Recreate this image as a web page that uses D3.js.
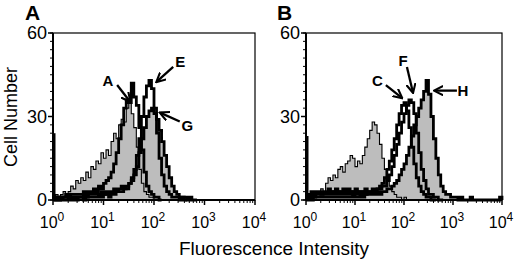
<!DOCTYPE html>
<html>
<head>
<meta charset="utf-8">
<script src="https://cdn.jsdelivr.net/npm/d3@7"></script>
<style>
  body { margin: 0; background: #fff; }
  text { font-family: "Liberation Sans", Arial, sans-serif; fill: #000; }
</style>
</head>
<body>
<div id="chart"></div>
<script>
// histogram bins: 0.05 decade wide, starting at 10^0
var binWidth = 0.05;
var xTicks = [1, 10, 100, 1000, 10000];
var yTicks = [0, 30, 60];

// panel A
var ctrlA = [1,2,1,2,3,2, 3,5,4,7,6,8, 7,10,8,12,11,14, 13,17,15,18,16,21,
             24,22,27,29,28,33, 35,31,26,19,11,6, 3,2,1,1,0,0];
var seriesA = [1,1,1,1,1,2,1,2,2,2,2, 2,3,2,3,3,4,3,5,4,6, 7,8,10,13,17,22,
               27,33,36,35,42,37, 34,26,18,10,5,3, 2,1,1,0];
var seriesE = [0,1,0,1,1,1,1,1,1,1,1,1,2,1,2,2,2,2,2,3,2, 3,3,3,4,3,4,5,4,5,6,
               8,11,16,22,30,37, 41,43,40,33,24,15, 9,5,3,2,1,1, 1,0,1,0];
var seriesG = [1,0,0,1,0,0,1,0,1,0,1,1,0,1,1,1,1,1,2,1,2,2,1,2,2,3,
               3,3,4,4,6,7, 9,12,17,22,26,30, 32,33,31,29,25,21,
               16,12,8,5,3,2, 1,1,1,0,1,0,0];
var firstChannelA = 24;   // pile-up in the lowest channel

// panel B
var ctrlB = [2,1,2,3,2,3, 4,3,6,8,7,9, 8,11,12,10,13,14, 16,15,12,14,13,16,
             19,22,25,28,27,24, 20,15,11,8,5,3, 2,1,1,0,1,0];
var seriesC = [1,2,3,2,3,3,2,3,3,4,3,3,4,3,3,4,3,4,3,3,4,3,3,3,4,3,
               3,4,3,4,5,6, 8,11,14,18,22,27, 31,34,35,32,26,19,
               13,8,5,3,2,1, 1,0,0];
var seriesF = [1,1,2,1,2,2,2,2,2,2,3,2,2,3,2,2,3,2,3,2,2,3,2,3,2,3,
               3,3,3,4,4,5, 5,7,9,12,16,20, 24,28,31,34,36,35,
               31,24,17,11,7,4, 2,2,1,1,0,0];
var seriesH = [0,1,0,1,1,1,1,1,1,1,1,1,1,1,1,1,1,1,1,2,1,1,2,1,2,2,
               2,2,2,3,2,3, 3,4,4,5,6,7, 9,11,13,16,19,23,
               27,30,33,36,39,43, 38,30,22,15,9,5, 3,2,2,1,1,1,
               0,1,0,0,0,1,0,0,0,0,0,0,0,0,0,0,0,1];
var firstChannelB = 23;

// annotations: [label, labelLog, labelCount, tailLog, tailCount, headLog, headCount]
var notesA = [
    ["A", 1.09, 43, 1.27, 41.3, 1.52, 35.5],
    ["E", 2.52, 49.6, 2.38, 47.8, 2.06, 42.6],
    ["G", 2.66, 26.6, 2.51, 28.2, 2.13, 31.3]
];
var notesB = [
    ["C", 1.46, 43, 1.63, 41.3, 1.95, 36.8],
    ["F", 1.98, 50, 2.06, 47.8, 2.18, 38.8],
    ["H", 3.2, 39.3, 3.08, 39.3, 2.63, 39.3]
];

var width = 520, height = 261;
var svg = d3.select("#chart").append("svg")
    .attr("width", width)
    .attr("height", height);

var defs = svg.append("defs");
defs.append("marker")
    .attr("id", "arrow")
    .attr("viewBox", "0 0 10 10")
    .attr("refX", 8).attr("refY", 5)
    .attr("markerWidth", 4.5).attr("markerHeight", 4.5)
    .attr("markerUnits", "strokeWidth")
    .attr("orient", "auto")
    .append("path")
    .attr("d", "M0,0.5 L9,5 L0,9.5")
    .attr("fill", "none")
    .attr("stroke", "#000")
    .attr("stroke-width", 2);

function toPoints(counts) {
    var pts = counts.map((c, i) => ({ lo: Math.pow(10, i * binWidth), c: c }));
    pts.push({ lo: Math.pow(10, counts.length * binWidth), c: 0 });
    return pts;
}

function drawPanel(cfg) {
    var x = d3.scaleLog().domain([1, 10000]).range([cfg.left, cfg.right]);
    var y = d3.scaleLinear().domain([0, 60]).range([200, 33]);
    var g = svg.append("g");

    var area = d3.area().curve(d3.curveStepAfter)
        .x(d => x(d.lo)).y0(y(0)).y1(d => y(d.c));
    var line = d3.line().curve(d3.curveStepAfter)
        .x(d => x(d.lo)).y(d => y(d.c));

    // filled histograms
    cfg.filled.forEach(s => {
        g.append("path").attr("d", area(toPoints(s)))
            .attr("fill", "#bdbdbd").attr("stroke", "none");
    });
    // thin control outline
    g.append("path").attr("d", line(toPoints(cfg.filled[0])))
        .attr("fill", "none").attr("stroke", "#000").attr("stroke-width", 1.1);
    // thick lines
    cfg.thick.forEach(s => {
        g.append("path").attr("d", line(toPoints(s)))
            .attr("fill", "none").attr("stroke", "#000")
            .attr("stroke-width", 2.8).attr("stroke-linejoin", "miter");
    });

    // frame
    g.append("rect")
        .attr("x", x(1)).attr("y", y(60))
        .attr("width", x(10000) - x(1)).attr("height", y(0) - y(60))
        .attr("fill", "none").attr("stroke", "#000").attr("stroke-width", 1.2);

    // lowest-channel pile-up along the y axis
    g.append("line")
        .attr("x1", x(1) + 1).attr("x2", x(1) + 1)
        .attr("y1", y(0)).attr("y2", y(cfg.firstChannel))
        .attr("stroke", "#000").attr("stroke-width", 3);

    // x axis: decades with minor ticks
    var minors = [];
    for (var d = 1; d < 10000; d *= 10) {
        for (var k = 2; k <= 9; k++) minors.push(d * k);
    }
    var xa = g.append("g").attr("transform", "translate(0," + y(0) + ")");
    xa.append("line").attr("x1", x(1)).attr("x2", x(10000))
        .attr("stroke", "#000").attr("stroke-width", 2);
    xa.selectAll(".mx").data(minors).enter().append("line")
        .attr("x1", d => x(d)).attr("x2", d => x(d))
        .attr("y1", 0).attr("y2", 3)
        .attr("stroke", "#000").attr("stroke-width", 1);
    xa.selectAll(".Mx").data(xTicks).enter().append("line")
        .attr("x1", d => x(d)).attr("x2", d => x(d))
        .attr("y1", 0).attr("y2", 5)
        .attr("stroke", "#000").attr("stroke-width", 1.5);
    var lbl = xa.selectAll(".lx").data(xTicks).enter().append("text")
        .attr("x", d => x(d) - 1).attr("y", 28)
        .attr("text-anchor", "middle")
        .attr("font-size", 16);
    lbl.append("tspan").text("10");
    lbl.append("tspan").attr("dy", -7).attr("font-size", 12)
        .text(d => Math.round(Math.log10(d)));

    // y axis
    var ya = g.append("g").attr("transform", "translate(" + x(1) + ",0)");
    ya.append("line").attr("y1", y(0)).attr("y2", y(60))
        .attr("stroke", "#000").attr("stroke-width", 2);
    ya.selectAll(".my").data(d3.range(0, 61, 3)).enter().append("line")
        .attr("x1", 0).attr("x2", -3)
        .attr("y1", d => y(d)).attr("y2", d => y(d))
        .attr("stroke", "#000").attr("stroke-width", 1);
    ya.selectAll(".My").data(yTicks).enter().append("line")
        .attr("x1", 0).attr("x2", -5)
        .attr("y1", d => y(d)).attr("y2", d => y(d))
        .attr("stroke", "#000").attr("stroke-width", 1.5);
    ya.selectAll(".ly").data(yTicks).enter().append("text")
        .attr("x", -6).attr("y", d => y(d) + 6)
        .attr("text-anchor", "end")
        .attr("font-size", 18)
        .text(d => d);

    // panel letter
    g.append("text").attr("x", cfg.letterX).attr("y", 20)
        .attr("font-size", 21).attr("font-weight", "bold")
        .text(cfg.letter);

    // arrows and labels
    var lg = v => Math.pow(10, v);
    cfg.notes.forEach(n => {
        g.append("line")
            .attr("x1", x(lg(n[3]))).attr("y1", y(n[4]))
            .attr("x2", x(lg(n[5]))).attr("y2", y(n[6]))
            .attr("stroke", "#000").attr("stroke-width", 2.3)
            .attr("marker-end", "url(#arrow)");
        g.append("text")
            .attr("x", x(lg(n[1]))).attr("y", y(n[2]) + 5.5)
            .attr("text-anchor", "middle")
            .attr("font-size", 15).attr("font-weight", "bold")
            .text(n[0]);
    });
}

drawPanel({ left: 53, right: 255, letter: "A", letterX: 25,
            filled: [ctrlA, seriesG], thick: [seriesA, seriesE, seriesG],
            firstChannel: firstChannelA, notes: notesA });
drawPanel({ left: 306, right: 502, letter: "B", letterX: 277,
            filled: [ctrlB, seriesH], thick: [seriesC, seriesF, seriesH],
            firstChannel: firstChannelB, notes: notesB });

svg.append("text")
    .attr("transform", "translate(17,117) rotate(-90)")
    .attr("text-anchor", "middle")
    .attr("font-size", 18)
    .text("Cell Number");

svg.append("text")
    .attr("x", 274).attr("y", 255)
    .attr("text-anchor", "middle")
    .attr("font-size", 19)
    .text("Fluorescence Intensity");
</script>
</body>
</html>
